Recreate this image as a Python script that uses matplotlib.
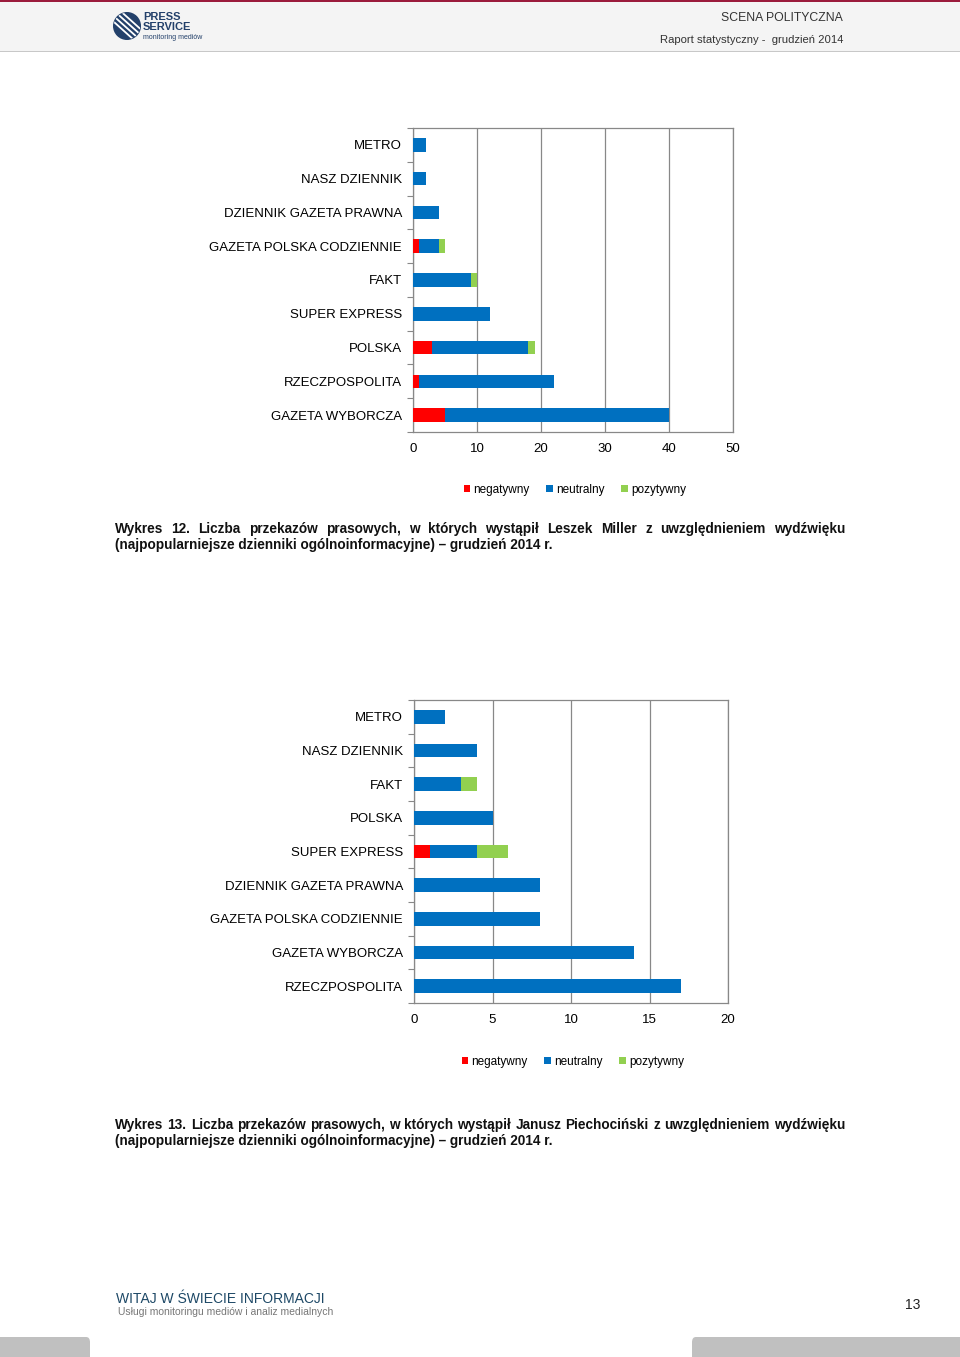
import matplotlib
matplotlib.use("Agg")
import matplotlib.pyplot as plt
from matplotlib.patches import Rectangle, FancyBboxPatch, Circle
import numpy as np

W, H = 960, 1357

# chart 12 - Leszek Miller (top to bottom)
papers12 = ["METRO", "NASZ DZIENNIK", "DZIENNIK GAZETA PRAWNA", "GAZETA POLSKA CODZIENNIE",
            "FAKT", "SUPER EXPRESS", "POLSKA", "RZECZPOSPOLITA", "GAZETA WYBORCZA"]
neg12 = [0, 0, 0, 1, 0, 0, 3, 1, 5]
neu12 = [2, 2, 4, 3, 9, 12, 15, 21, 35]
poz12 = [0, 0, 0, 1, 1, 0, 1, 0, 0]

# chart 13 - Janusz Piechocinski
papers13 = ["METRO", "NASZ DZIENNIK", "FAKT", "POLSKA", "SUPER EXPRESS",
            "DZIENNIK GAZETA PRAWNA", "GAZETA POLSKA CODZIENNIE", "GAZETA WYBORCZA", "RZECZPOSPOLITA"]
neg13 = [0, 0, 0, 0, 1, 0, 0, 0, 0]
neu13 = [2, 4, 3, 5, 3, 8, 8, 14, 17]
poz13 = [0, 0, 1, 0, 2, 0, 0, 0, 0]

series_names = ["negatywny", "neutralny", "pozytywny"]
colors = ["#ff0000", "#0070c0", "#92d050"]

caption12 = ("Wykres 12. Liczba przekazów prasowych, w których wystąpił Leszek Miller z uwzględnieniem wydźwięku",
             "(najpopularniejsze dzienniki ogólnoinformacyjne) – grudzień 2014 r.")
caption13 = ("Wykres 13. Liczba przekazów prasowych, w których wystąpił Janusz Piechociński z uwzględnieniem wydźwięku",
             "(najpopularniejsze dzienniki ogólnoinformacyjne) – grudzień 2014 r.")

plt.rcParams['font.family'] = ['Liberation Sans', 'DejaVu Sans']

fig = plt.figure(figsize=(W / 100, H / 100), dpi=100)


def fx(x):
    return x / W


def fy(y):
    return 1 - y / H


def draw_chart(left, right, top, bottom, cats, neg, neu, poz, xmax, step, legend_xy):
    ax = fig.add_axes([fx(left), fy(bottom), fx(right - left), (bottom - top) / H])
    y = np.arange(len(cats))
    neg = np.array(neg)
    neu = np.array(neu)
    poz = np.array(poz)
    ax.barh(y, neg, height=0.4, color=colors[0], label=series_names[0], zorder=3)
    ax.barh(y, neu, left=neg, height=0.4, color=colors[1], label=series_names[1], zorder=3)
    ax.barh(y, poz, left=neg + neu, height=0.4, color=colors[2], label=series_names[2], zorder=3)
    ax.set_ylim(len(cats) - 0.5, -0.5)
    ax.set_xlim(0, xmax)
    ax.set_xticks(np.arange(0, xmax + 1, step))
    ax.set_yticks(y)
    ax.set_yticklabels(cats)
    ax.set_yticks(np.arange(-0.5, len(cats), 1), minor=True)
    ax.tick_params(axis='y', which='major', length=0, pad=8, labelsize=9.5)
    ax.tick_params(axis='y', which='minor', length=4, color="#888888", width=0.8)
    ax.tick_params(axis='x', length=0, pad=8, labelsize=9.5)
    ax.grid(axis='x', color="#888888", linewidth=0.9, zorder=0)
    for s in ax.spines.values():
        s.set_color("#888888")
        s.set_linewidth(0.9)
    handles, labels = ax.get_legend_handles_labels()
    fig.legend(handles, labels, loc="center", bbox_to_anchor=(fx(legend_xy[0]), fy(legend_xy[1])),
               ncol=3, frameon=False, fontsize=8.5, handlelength=0.55, handleheight=0.55,
               handletextpad=0.3, columnspacing=1.4)
    return ax


draw_chart(413, 733, 128, 432, papers12, neg12, neu12, poz12, 50, 10, (575, 490))
draw_chart(414, 728, 700, 1003, papers13, neg13, neu13, poz13, 20, 5, (573, 1062))

# header
fig.patches.append(Rectangle((0, fy(51)), 1, 51 / H, transform=fig.transFigure,
                             facecolor="#f4f4f4", edgecolor="none", zorder=0))
fig.patches.append(Rectangle((0, fy(2)), 1, 2 / H, transform=fig.transFigure,
                             facecolor="#9b1b3c", edgecolor="none", zorder=1))
fig.patches.append(Rectangle((0, fy(52)), 1, 1.5 / H, transform=fig.transFigure,
                             facecolor="#c8c8c8", edgecolor="none", zorder=1))
fig.text(fx(843), fy(18), "SCENA POLITYCZNA", ha="right", va="center", fontsize=8.8,
         color="#333333")
fig.text(fx(843), fy(40), "Raport statystyczny -  grudzień 2014", ha="right", va="center",
         fontsize=8.1, color="#333333")

# logo
logo_ax = fig.add_axes([fx(113), fy(40), fx(28), 28 / H], zorder=5)
logo_ax.set_xlim(-1, 1)
logo_ax.set_ylim(-1, 1)
logo_ax.set_aspect('equal')
logo_ax.axis('off')
disc = Circle((0, 0), 0.95, color="#23406a", zorder=1)
logo_ax.add_patch(disc)
for k in np.linspace(-0.55, 0.65, 4):
    xs = np.linspace(-0.9, 0.9, 20)
    ln, = logo_ax.plot(xs, -xs * 0.9 + k, color="white", linewidth=1.3, zorder=2)
    ln.set_clip_path(disc)
fig.text(fx(143), fy(22), "PRESS\nSERVICE", fontsize=8, fontweight="bold", color="#23406a",
         va="center", linespacing=0.9)
fig.text(fx(143), fy(37.5), "monitoring mediów", fontsize=5, color="#23406a", va="center")


def justified_line(text, x0, x1, ypix, **kw):
    words = text.split(" ")
    r = fig.canvas.get_renderer()
    objs = [fig.text(0, fy(ypix), w, va="center", **kw) for w in words]
    widths = [o.get_window_extent(renderer=r).width for o in objs]
    gap = ((x1 - x0) - sum(widths)) / (len(words) - 1)
    x = x0
    for o, w in zip(objs, widths):
        o.set_x(fx(x))
        x += w + gap


cap_kw = dict(fontsize=9.8, fontweight="bold", color="#111111")
justified_line(caption12[0], 115, 845, 529, **cap_kw)
fig.text(fx(115), fy(545), caption12[1], va="center", **cap_kw)
justified_line(caption13[0], 115, 845, 1125, **cap_kw)
fig.text(fx(115), fy(1141), caption13[1], va="center", **cap_kw)

# footer
fig.text(fx(116), fy(1299), "WITAJ W ŚWIECIE INFORMACJI", va="center", fontsize=10,
         color="#1d4866")
fig.text(fx(118), fy(1312), "Usługi monitoringu mediów i analiz medialnych", va="center",
         fontsize=7.5, color="#777777")
fig.text(fx(913), fy(1305), "13", ha="center", va="center", fontsize=10, color="#222222")
fig.patches.append(FancyBboxPatch((fx(-10), fy(1357) - 0.01), fx(100), (20 / H) + 0.01,
                                  boxstyle="round,pad=0,rounding_size=0.004",
                                  transform=fig.transFigure, facecolor="#c0c0c0", edgecolor="none"))
fig.patches.append(FancyBboxPatch((fx(692), fy(1357) - 0.01), fx(280), (20 / H) + 0.01,
                                  boxstyle="round,pad=0,rounding_size=0.004",
                                  transform=fig.transFigure, facecolor="#c0c0c0", edgecolor="none"))

fig.savefig("out.png", dpi=100)
